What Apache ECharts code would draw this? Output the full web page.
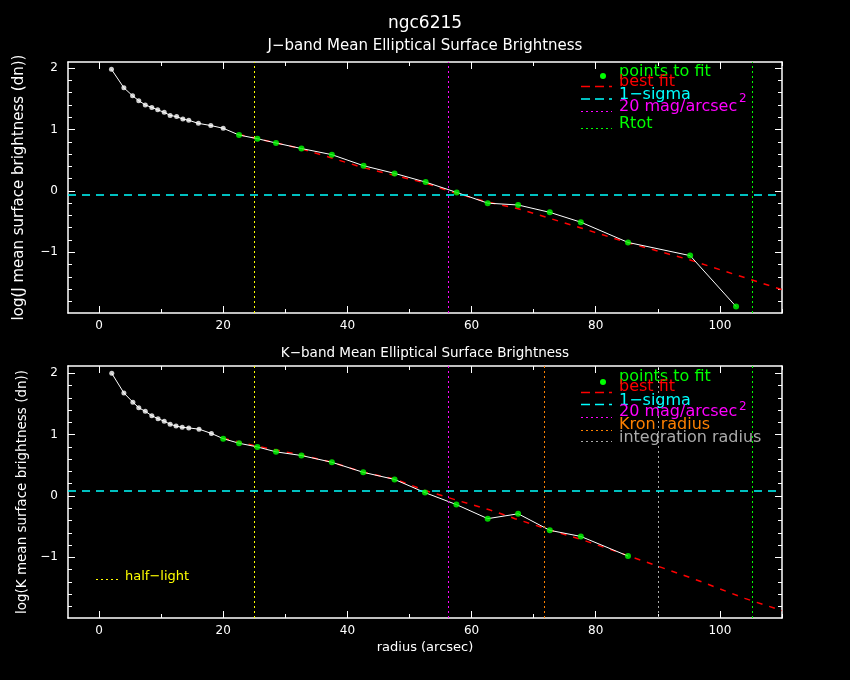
<!DOCTYPE html>
<html>
<head>
<meta charset="utf-8">
<title>ngc6215</title>
<script src="https://cdn.jsdelivr.net/npm/echarts@6/dist/echarts.min.js"></script>
<style>
  html, body { margin: 0; padding: 0; background: #000; }
  #chart { width: 850px; height: 680px; }
</style>
</head>
<body>
<div id="chart"></div>
<script>
// J-band profile: inner points (not fitted) and points used for the fit
const jInnerR = [2.0, 4.0, 5.4, 6.4, 7.45, 8.5, 9.45, 10.5, 11.45, 12.5, 13.5, 14.45, 16.0, 18.0, 20.0];
const jInnerV = [1.98, 1.68, 1.55, 1.47, 1.40, 1.36, 1.32, 1.28, 1.23, 1.21, 1.17, 1.15, 1.10, 1.065, 1.02];
const jFitR = [22.55, 25.5, 28.5, 32.6, 37.5, 42.6, 47.6, 52.6, 57.6, 62.6, 67.5, 72.6, 77.6, 85.2, 95.2, 102.6];
const jFitV = [0.91, 0.85, 0.78, 0.69, 0.59, 0.41, 0.285, 0.143, -0.025, -0.20, -0.23, -0.35, -0.51, -0.84, -1.055, -1.885];
// J-band best fit
const jBestR = [22.5, 32.5, 42.5, 52.5, 57.5, 62.5, 67.5, 77.5, 85, 95, 110];
const jBestV = [0.92, 0.69, 0.38, 0.13, -0.04, -0.18, -0.29, -0.60, -0.84, -1.12, -1.61];
const jSigma = -0.07;
const jHalfLight = 25.0, jMag20 = 56.3, jRtot = 105.2;

// K-band profile
const kInnerR = [2.05, 4.0, 5.45, 6.4, 7.45, 8.5, 9.5, 10.5, 11.45, 12.4, 13.4, 14.45, 16.1, 18.1];
const kInnerV = [2.00, 1.68, 1.53, 1.44, 1.38, 1.31, 1.26, 1.22, 1.17, 1.14, 1.12, 1.11, 1.09, 1.02];
const kFitR = [20.0, 22.55, 25.5, 28.5, 32.6, 37.5, 42.55, 47.6, 52.5, 57.55, 62.6, 67.5, 72.6, 77.6, 85.2];
const kFitV = [0.935, 0.86, 0.80, 0.72, 0.66, 0.55, 0.386, 0.27, 0.055, -0.14, -0.37, -0.29, -0.56, -0.66, -0.98];
const kBestR = [20, 25.5, 32.5, 37.5, 42.5, 47.5, 52.5, 57.5, 63, 67, 72.5, 78, 84, 90, 96, 100, 104, 110];
const kBestV = [0.94, 0.81, 0.67, 0.55, 0.39, 0.28, 0.09, -0.065, -0.23, -0.37, -0.55, -0.72, -0.93, -1.145, -1.36, -1.515, -1.67, -1.87];
const kSigma = 0.09;
const kHalfLight = 25.0, kMag20 = 56.3, kKron = 71.7, kInteg = 90.1, kRtot = 105.2;

// axes
const xMin = -5, xMax = 110;
const yMinJ = -1.99, yMaxJ = 2.10;
const yMinK = -1.99, yMaxK = 2.12;
const xMajor = [0, 20, 40, 60, 80, 100];
const xMinor = [10, 30, 50, 70, 90, 110];
const yMajor = [-1, 0, 1, 2];
const yMinor = [-1.8, -1.6, -1.4, -1.2, -0.8, -0.6, -0.4, -0.2, 0.2, 0.4, 0.6, 0.8, 1.2, 1.4, 1.6, 1.8];

const FONT = 'DejaVu Sans';
const MINUS = '\u2212';
const WHITE = '#ffffff';

function fmt(v) { return v < 0 ? MINUS + (-v) : String(v); }
function pairs(xs, ys) { return xs.map(function (x, i) { return [x, ys[i]]; }); }

function makeAxis(kind, grid, pos, ticks, len, labels, extra) {
    const isX = kind === 'x';
    const ax = {
        type: 'value', gridIndex: grid, position: pos,
        min: isX ? xMin : extra.min, max: isX ? xMax : extra.max,
        axisLine: { show: len > 5, onZero: false, lineStyle: { color: WHITE, width: 1.5 } },
        axisTick: { show: true, inside: true, length: len, customValues: ticks,
                    lineStyle: { color: WHITE, width: 1 } },
        axisLabel: labels ? {
            show: true, customValues: isX ? xMajor : yMajor, formatter: fmt,
            color: WHITE, fontFamily: FONT, fontSize: 12, margin: isX ? 7 : 10
        } : { show: false },
        splitLine: { show: false },
        minorTick: { show: false }
    };
    if (extra && extra.name) {
        ax.name = extra.name;
        ax.nameLocation = 'middle';
        ax.nameGap = extra.gap;
        ax.nameTextStyle = { color: WHITE, fontFamily: FONT, fontSize: extra.size };
    }
    return ax;
}

const xAxes = [];
const yAxes = [];
[0, 1].forEach(function (g) {
    const yr = g === 0 ? { min: yMinJ, max: yMaxJ } : { min: yMinK, max: yMaxK };
    const xName = g === 1 ? { name: 'radius (arcsec)', gap: 23, size: 13 } : {};
    xAxes.push(makeAxis('x', g, 'bottom', xMajor, 7, true, xName));
    xAxes.push(makeAxis('x', g, 'bottom', xMinor, 4, false, {}));
    xAxes.push(makeAxis('x', g, 'top', xMajor, 7, false, {}));
    xAxes.push(makeAxis('x', g, 'top', xMinor, 4, false, {}));
    const yName = g === 0
        ? { name: 'log(J mean surface brightness (dn))', gap: 41, size: 15 }
        : { name: 'log(K mean surface brightness (dn))', gap: 36, size: 13.5 };
    yAxes.push(makeAxis('y', g, 'left', yMajor, 7, true, Object.assign({}, yr, yName)));
    yAxes.push(makeAxis('y', g, 'left', yMinor, 4, false, yr));
    yAxes.push(makeAxis('y', g, 'right', yMajor, 7, false, yr));
    yAxes.push(makeAxis('y', g, 'right', yMinor, 4, false, yr));
});

function dotted(x, color) {
    return { xAxis: x, lineStyle: { color: color, type: [2, 3], width: 1 } };
}

function panelSeries(ax, innerR, innerV, fitR, fitV, bestR, bestV, marks) {
    return [
        {
            type: 'line', xAxisIndex: ax, yAxisIndex: ax,
            data: pairs(bestR, bestV), symbol: 'none', z: 2,
            lineStyle: { color: '#ff0000', width: 1.5, type: [6, 7] },
            markLine: { silent: true, symbol: 'none', label: { show: false }, animation: false, data: marks }
        },
        {
            type: 'line', xAxisIndex: ax, yAxisIndex: ax,
            data: pairs(innerR.concat(fitR), innerV.concat(fitV)), symbol: 'none', z: 3,
            lineStyle: { color: WHITE, width: 1 }
        },
        {
            type: 'scatter', xAxisIndex: ax, yAxisIndex: ax, z: 4,
            data: pairs(innerR, innerV), symbol: 'circle', symbolSize: 5,
            itemStyle: { color: WHITE }
        },
        {
            type: 'scatter', xAxisIndex: ax, yAxisIndex: ax, z: 5,
            data: pairs(fitR, fitV), symbol: 'circle', symbolSize: 6,
            itemStyle: { color: '#00ff00' }
        }
    ];
}

const series = panelSeries(0, jInnerR, jInnerV, jFitR, jFitV, jBestR, jBestV, [
    dotted(jHalfLight, '#ffff00'), dotted(jMag20, '#ff00ff'), dotted(jRtot, '#00ff00'),
    { yAxis: jSigma, lineStyle: { color: '#00ffff', type: [8, 6], width: 1.5 } }
]).concat(panelSeries(4, kInnerR, kInnerV, kFitR, kFitV, kBestR, kBestV, [
    dotted(kHalfLight, '#ffff00'), dotted(kMag20, '#ff00ff'), dotted(kKron, '#ff8000'),
    dotted(kInteg, '#aaaaaa'), dotted(kRtot, '#00ff00'),
    { yAxis: kSigma, lineStyle: { color: '#00ffff', type: [8, 6], width: 1.5 } }
]));

// text and legend drawing helpers
function txt(x, y, s, color, size, align) {
    return { type: 'text', x: x, y: y, silent: true, z: 10,
             style: { text: s, fill: color, font: size + 'px "' + FONT + '"',
                      align: align || 'left', verticalAlign: 'middle',
                      textAlign: align || 'left', textVerticalAlign: 'middle' } };
}
function seg(x1, x2, y, color, dash, w) {
    return { type: 'line', silent: true, z: 10, shape: { x1: x1, y1: y, x2: x2, y2: y },
             style: { stroke: color, lineWidth: w || 1, lineDash: dash } };
}
function dot(x, y) {
    return { type: 'circle', silent: true, z: 10, shape: { cx: x, cy: y, r: 3 }, style: { fill: '#00ff00' } };
}

const DOTS = [2, 3];
const graphics = [
    txt(425, 24, 'ngc6215', WHITE, 17, 'center'),
    txt(425, 46.5, 'J' + MINUS + 'band Mean Elliptical Surface Brightness', WHITE, 15, 'center'),
    txt(425, 353, 'K' + MINUS + 'band Mean Elliptical Surface Brightness', WHITE, 13.5, 'center'),

    // J legend
    dot(603, 76),
    txt(619, 71.5, 'points to fit', '#00ff00', 16),
    seg(581, 612, 86.5, '#ff0000', [9, 5], 1.5),
    txt(619, 81.5, 'best fit', '#ff0000', 16),
    seg(581, 612, 99, '#00ffff', [9, 5], 1.5),
    txt(619, 95, '1' + MINUS + 'sigma', '#00ffff', 16),
    seg(581, 612, 111.5, '#ff00ff', DOTS, 1),
    txt(619, 106.5, '20 mag/arcsec', '#ff00ff', 16),
    txt(739, 98.5, '2', '#ff00ff', 12),
    seg(581, 612, 128.5, '#00ff00', DOTS, 1),
    txt(619, 124, 'Rtot', '#00ff00', 16),

    // K legend
    dot(603, 382),
    txt(619, 376.5, 'points to fit', '#00ff00', 16),
    seg(581, 612, 392.5, '#ff0000', [9, 5], 1.5),
    txt(619, 386.5, 'best fit', '#ff0000', 16),
    seg(581, 612, 404.5, '#00ffff', [9, 5], 1.5),
    txt(619, 400.5, '1' + MINUS + 'sigma', '#00ffff', 16),
    seg(581, 612, 417.5, '#ff00ff', DOTS, 1),
    txt(619, 412, '20 mag/arcsec', '#ff00ff', 16),
    txt(739, 406.5, '2', '#ff00ff', 12),
    seg(581, 612, 430.5, '#ff8000', DOTS, 1),
    txt(619, 425, 'Kron radius', '#ff8000', 16),
    seg(581, 612, 441.5, '#aaaaaa', DOTS, 1),
    txt(619, 438, 'integration radius', '#aaaaaa', 16),

    // half-light key
    seg(96, 118, 579.5, '#ffff00', DOTS, 1),
    txt(125, 577, 'half' + MINUS + 'light', '#ffff00', 13)
];

const chart = echarts.init(document.getElementById('chart'));
chart.setOption({
    backgroundColor: '#000000',
    animation: false,
    textStyle: { fontFamily: FONT },
    grid: [
        { left: 68, right: 68, top: 62, height: 251, outerBoundsMode: 'none' },
        { left: 68, right: 68, top: 366, height: 252, outerBoundsMode: 'none' }
    ],
    xAxis: xAxes,
    yAxis: yAxes,
    series: series,
    graphic: graphics
});
</script>
</body>
</html>
